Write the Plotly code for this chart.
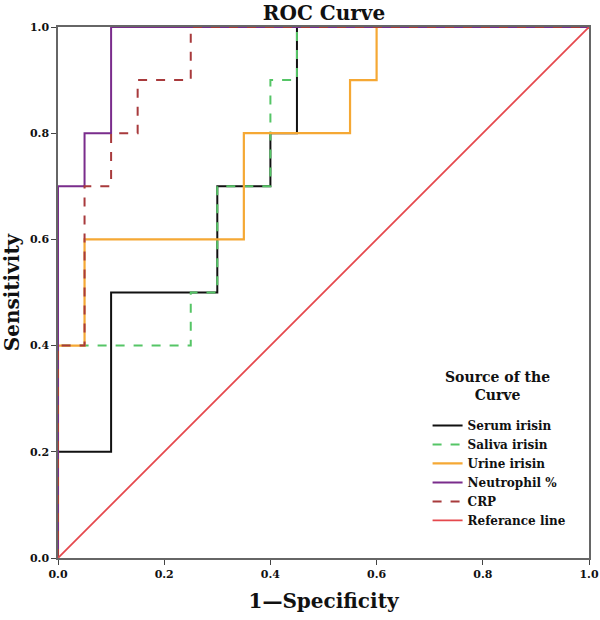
import plotly.graph_objects as go

# Data (1 - specificity, sensitivity)
serum_x = [0, 0, 0.1, 0.1, 0.3, 0.3, 0.4, 0.4, 0.45, 0.45, 1]
serum_y = [0, 0.2, 0.2, 0.5, 0.5, 0.7, 0.7, 0.8, 0.8, 1.0, 1.0]
saliva_x = [0, 0, 0.25, 0.25, 0.3, 0.3, 0.4, 0.4, 0.45, 0.45, 1]
saliva_y = [0, 0.4, 0.4, 0.5, 0.5, 0.7, 0.7, 0.9, 0.9, 1.0, 1.0]
urine_x = [0, 0, 0.05, 0.05, 0.35, 0.35, 0.55, 0.55, 0.6, 0.6, 1]
urine_y = [0, 0.4, 0.4, 0.6, 0.6, 0.8, 0.8, 0.9, 0.9, 1.0, 1.0]
neut_x = [0, 0, 0.05, 0.05, 0.1, 0.1, 1]
neut_y = [0, 0.7, 0.7, 0.8, 0.8, 1.0, 1.0]
crp_x = [0, 0, 0.05, 0.05, 0.1, 0.1, 0.15, 0.15, 0.25, 0.25, 1]
crp_y = [0, 0.4, 0.4, 0.7, 0.7, 0.8, 0.8, 0.9, 0.9, 1.0, 1.0]
ref_x = [0, 1]
ref_y = [0, 1]

tick_vals = [0, 0.2, 0.4, 0.6, 0.8, 1.0]
tick_text = ["0.0", "0.2", "0.4", "0.6", "0.8", "1.0"]

series = [
    ("Serum irisin", serum_x, serum_y, "#111111", "solid", 2),
    ("Saliva irisin", saliva_x, saliva_y, "#55c566", "dash", 2),
    ("Urine irisin", urine_x, urine_y, "#f5a834", "solid", 2.2),
    ("Neutrophil %", neut_x, neut_y, "#7a2c8c", "solid", 2),
    ("CRP", crp_x, crp_y, "#a83a3c", "dash", 2),
    ("Referance line", ref_x, ref_y, "#e5484d", "solid", 1.8),
]

fig = go.Figure()
for name, xs, ys, color, dash, w in series:
    fig.add_trace(go.Scatter(
        x=xs, y=ys, mode="lines", name=f"<b>{name}</b>",
        line=dict(color=color, dash=dash, width=w),
    ))

serif = "DejaVu Serif"
fig.update_layout(
    width=600, height=620,
    margin=dict(l=58, r=11, t=27, b=62, autoexpand=False),
    paper_bgcolor="white", plot_bgcolor="white",
    font=dict(family=serif, color="#111111"),
    title=dict(text="<b>ROC Curve</b>", x=324 / 600, xanchor="center",
               xref="container",
               y=1 - 13 / 620, yref="container", yanchor="middle",
               font=dict(size=20, family=serif)),
    showlegend=True,
    legend=dict(
        x=0.696, y=0.277, xanchor="left", yanchor="top",
        bgcolor="rgba(0,0,0,0)",
        font=dict(size=12, family=serif),
        itemwidth=30, tracegroupgap=0,
    ),
    annotations=[dict(
        text="<b>Source of the<br>Curve</b>", x=0.8286, y=0.324,
        xref="paper", yref="paper", xanchor="center", yanchor="middle",
        showarrow=False, align="center", font=dict(size=14, family=serif),
    )],
)
fig.update_xaxes(
    range=[0, 1], tickvals=tick_vals, ticktext=[f"<b>{t}</b>" for t in tick_text],
    showgrid=False, zeroline=False, showline=True, mirror=True, automargin=False,
    linecolor="#666666", linewidth=1.5, ticks="outside", ticklen=5,
    tickcolor="#444444", tickfont=dict(size=11, family=serif),
    title=dict(text="<b>1—Specificity</b>", font=dict(size=20, family=serif), standoff=14),
)
fig.update_yaxes(
    range=[0, 1], tickvals=tick_vals, ticktext=[f"<b>{t}</b>" for t in tick_text],
    showgrid=False, zeroline=False, showline=True, mirror=True, automargin=False,
    linecolor="#666666", linewidth=1.5, ticks="outside", ticklen=5,
    tickcolor="#444444", tickfont=dict(size=11, family=serif),
    title=dict(text="<b>Sensitivity</b>", font=dict(size=20, family=serif), standoff=6),
)

fig.write_html("out.html", config={"displayModeBar": False},
               post_script="document.body.style.margin='0';")
